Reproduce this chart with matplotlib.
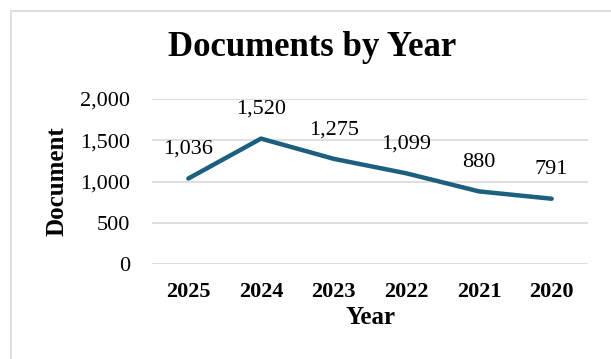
import matplotlib
matplotlib.use('Agg')
import matplotlib.pyplot as plt
from matplotlib.patches import Rectangle

years = ['2025', '2024', '2023', '2022', '2021', '2020']
documents = [1036, 1520, 1275, 1099, 880, 791]
yticks = [0, 500, 1000, 1500, 2000]

plt.rcParams['font.family'] = ['Liberation Serif', 'DejaVu Serif']

W, H = 611, 359
fig = plt.figure(figsize=(W / 100, H / 100), dpi=100)
ax = fig.add_axes([152 / W, 1 - 264 / H, 436 / W, (264 - 99) / H])

# light frame around the chart area
fig.patches.append(Rectangle((11 / W, -0.1), 1.2, 1 - 11 / H + 0.1,
                             transform=fig.transFigure, fill=False,
                             edgecolor='#d9d9d9', linewidth=1.2))

x = list(range(len(years)))
ax.plot(x, documents, color='#1d5f7e', linewidth=3.2, solid_capstyle='round')

for xi, v in zip(x, documents):
    ax.annotate('{:,}'.format(v), (xi, v), xytext=(0, 21), textcoords='offset points',
                ha='center', va='center', fontsize=16)

ax.set_xlim(-0.5, len(years) - 0.5)
ax.set_ylim(0, 2000)
ax.set_yticks(yticks)
ax.set_yticklabels(['{:,}'.format(t) for t in yticks], fontsize=16)
ax.set_xticks(x)
ax.set_xticklabels(years, fontsize=16, fontweight='bold')
ax.tick_params(axis='y', length=0, pad=16)
ax.tick_params(axis='x', length=0, pad=13)
ax.grid(axis='y', color='#d9d9d9', linewidth=1.2)
ax.set_axisbelow(True)
for s in ax.spines.values():
    s.set_visible(False)

ax.set_xlabel('Year', fontsize=18, fontweight='bold', labelpad=3)
ax.set_ylabel('Document', fontsize=18, fontweight='bold', labelpad=8)
fig.text(312 / W, 1 - 48 / H, 'Documents by Year', ha='center', va='center',
         fontsize=25, fontweight='bold')

fig.savefig('out.png', dpi=100)
